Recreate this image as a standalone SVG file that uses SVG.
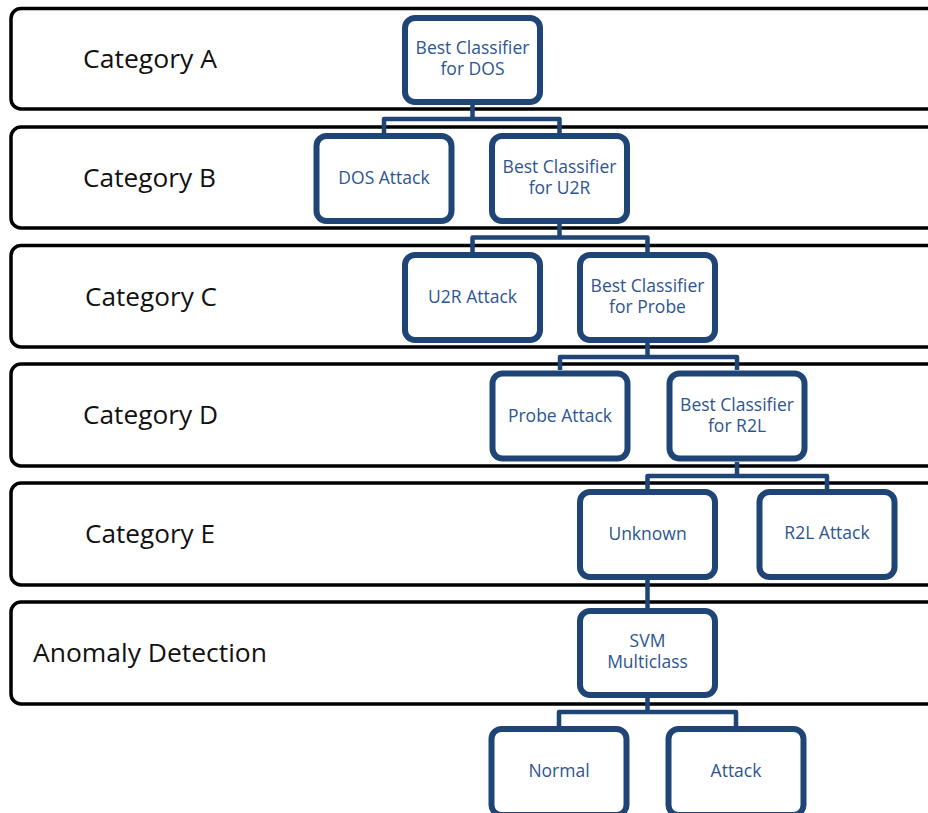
<svg xmlns="http://www.w3.org/2000/svg" width="928" height="813" viewBox="0 0 928 813">
<style>
.band{fill:#fff;stroke:#000;stroke-width:3.5}
.lbl{font-family:"Open Sans","DejaVu Sans",sans-serif;font-size:25px;fill:#111}
.node rect{fill:#fff;stroke:#1F4476;stroke-width:6}
.node text{font-family:"Open Sans","DejaVu Sans",sans-serif;font-size:17.5px;fill:#2E5590;text-anchor:middle}
.conn{fill:none;stroke:#1F4476;stroke-width:4.5;stroke-linejoin:round}
</style>
<rect width="928" height="813" fill="#fff"/>
<g id="lanes">
<g id="lane-a"><rect class="band" x="11" y="8.5" width="940" height="100.5" rx="10"/><text class="lbl" x="83" y="68" textLength="134" lengthAdjust="spacingAndGlyphs">Category A</text></g>
<g id="lane-b"><rect class="band" x="11" y="127" width="940" height="101" rx="10"/><text class="lbl" x="83" y="187" textLength="133" lengthAdjust="spacingAndGlyphs">Category B</text></g>
<g id="lane-c"><rect class="band" x="11" y="245.5" width="940" height="101.5" rx="10"/><text class="lbl" x="85" y="306" textLength="132" lengthAdjust="spacingAndGlyphs">Category C</text></g>
<g id="lane-d"><rect class="band" x="11" y="364" width="940" height="102" rx="10"/><text class="lbl" x="83" y="424" textLength="135" lengthAdjust="spacingAndGlyphs">Category D</text></g>
<g id="lane-e"><rect class="band" x="11" y="483" width="940" height="102" rx="10"/><text class="lbl" x="85" y="543" textLength="130" lengthAdjust="spacingAndGlyphs">Category E</text></g>
<g id="lane-f"><rect class="band" x="11" y="602" width="940" height="102" rx="10"/><text class="lbl" x="33" y="662" textLength="234" lengthAdjust="spacingAndGlyphs">Anomaly Detection</text></g>
</g>
<g id="connectors">
<path class="conn" d="M472.5 105V119M384 133V119H559.5V133"/>
<path class="conn" d="M559.5 224V237.5M472.5 252V237.5H647.5V252"/>
<path class="conn" d="M647.5 343V357M560 370V357H737V370"/>
<path class="conn" d="M737 462V476M647.5 489V476H827V489"/>
<path class="conn" d="M647.5 580V608"/>
<path class="conn" d="M647.5 698V712M559 726V712H736V726"/>
</g>
<g id="n-dos-cls" class="node"><rect x="405" y="18" width="135" height="84" rx="10"/><text x="472.5" y="54">Best Classifier</text><text x="472.5" y="75">for DOS</text></g>
<g id="n-dos-attack" class="node"><rect x="316.5" y="136" width="135" height="85" rx="10"/><text x="384" y="184">DOS Attack</text></g>
<g id="n-u2r-cls" class="node"><rect x="492" y="136" width="135" height="85" rx="10"/><text x="559.5" y="173">Best Classifier</text><text x="559.5" y="194">for U2R</text></g>
<g id="n-u2r-attack" class="node"><rect x="405" y="255" width="135" height="85" rx="10"/><text x="472.5" y="303">U2R Attack</text></g>
<g id="n-probe-cls" class="node"><rect x="580" y="255" width="135" height="85" rx="10"/><text x="647.5" y="292">Best Classifier</text><text x="647.5" y="313">for Probe</text></g>
<g id="n-probe-attack" class="node"><rect x="492.5" y="373.5" width="135" height="85" rx="10"/><text x="560" y="422">Probe Attack</text></g>
<g id="n-r2l-cls" class="node"><rect x="669.5" y="373.5" width="135" height="85" rx="10"/><text x="737" y="411">Best Classifier</text><text x="737" y="432">for R2L</text></g>
<g id="n-unknown" class="node"><rect x="580" y="492" width="135" height="85" rx="10"/><text x="647.5" y="540">Unknown</text></g>
<g id="n-r2l-attack" class="node"><rect x="759.5" y="492" width="135" height="85" rx="10"/><text x="827" y="539">R2L Attack</text></g>
<g id="n-svm" class="node"><rect x="580" y="611" width="135" height="84" rx="10"/><text x="647.5" y="647">SVM</text><text x="647.5" y="668">Multiclass</text></g>
<g id="n-normal" class="node"><rect x="491.5" y="729" width="135" height="86" rx="10"/><text x="559" y="777">Normal</text></g>
<g id="n-attack" class="node"><rect x="668.5" y="729" width="135" height="86" rx="10"/><text x="736" y="777">Attack</text></g>
</svg>
